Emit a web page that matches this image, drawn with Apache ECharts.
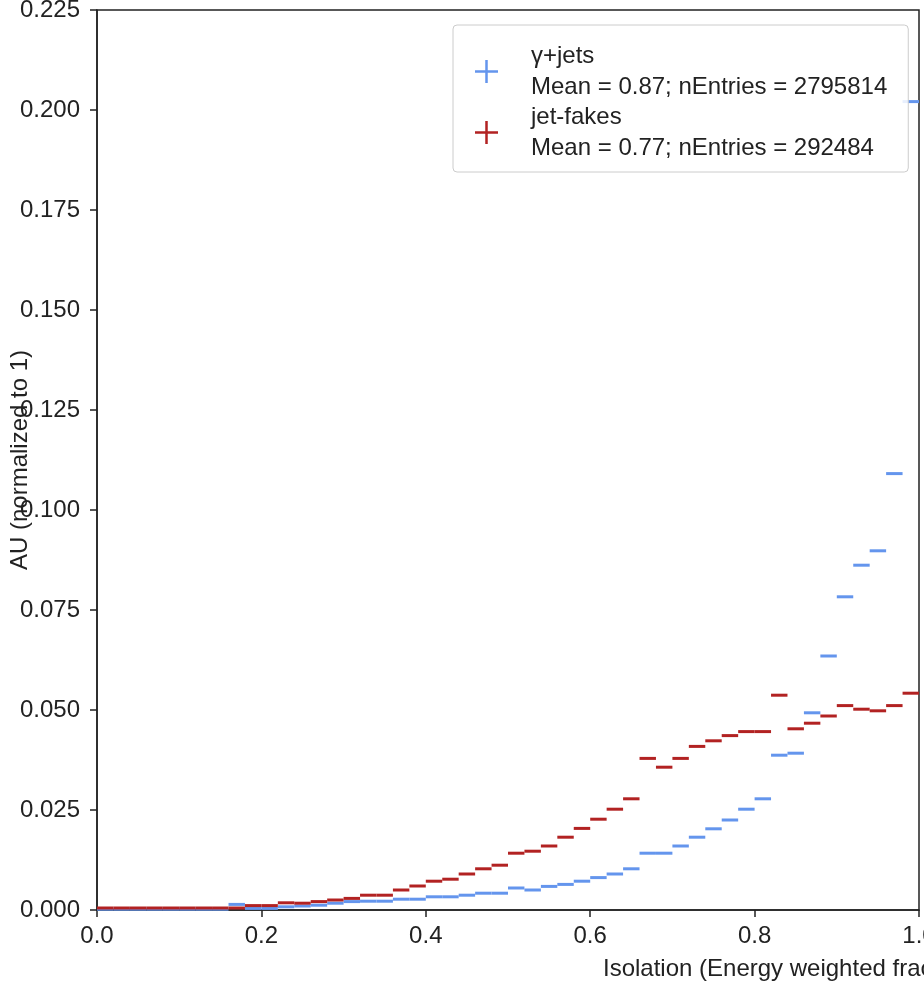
<!DOCTYPE html>
<html>
<head>
<meta charset="utf-8">
<script src="https://cdn.jsdelivr.net/npm/echarts@6/dist/echarts.min.js"></script>
<style>
  html, body { margin: 0; padding: 0; background: #fff; }
  #chart { width: 924px; height: 984px; }
</style>
</head>
<body>
<div id="chart"></div>
<script>
// ---- data ----
const binWidth = 0.02;
const nBins = 50;
const xTicks = [0.0, 0.2, 0.4, 0.6, 0.8, 1.0];
const seriesNames = ['γ+jets', 'jet-fakes'];
const seriesStats = ['Mean = 0.87; nEntries = 2795814', 'Mean = 0.77; nEntries = 292484'];
const gammaJets = [
  0.0002, 0.0002, 0.0002, 0.0002, 0.0002, 0.0002, 0.0002, 0.0002, 0.0014, 0.0004,
  0.0004, 0.0008, 0.0010, 0.0012, 0.0017, 0.0021, 0.0022, 0.0022, 0.0027, 0.0027,
  0.0033, 0.0033, 0.0037, 0.0042, 0.0042, 0.0055, 0.0050, 0.0059, 0.0064, 0.0072,
  0.0081, 0.0090, 0.0103, 0.0142, 0.0142, 0.0160, 0.0182, 0.0203, 0.0225, 0.0252,
  0.0278, 0.0387, 0.0392, 0.0493, 0.0635, 0.0783, 0.0862, 0.0898, 0.1091, 0.2021
];
const jetFakes = [
  0.0005, 0.0005, 0.0005, 0.0005, 0.0005, 0.0005, 0.0005, 0.0005, 0.0005, 0.0011,
  0.0011, 0.0018, 0.0017, 0.0021, 0.0025, 0.0029, 0.0037, 0.0037, 0.0050, 0.0060,
  0.0072, 0.0077, 0.0090, 0.0103, 0.0112, 0.0142, 0.0147, 0.0160, 0.0182, 0.0204,
  0.0227, 0.0252, 0.0278, 0.0379, 0.0357, 0.0379, 0.0409, 0.0423, 0.0436, 0.0446,
  0.0446, 0.0537, 0.0453, 0.0467, 0.0485, 0.0511, 0.0502, 0.0498, 0.0511, 0.0542
];
const colors = ['#6495ED', '#B22222'];

// ---- build ----
function toBins(vals) {
  return vals.map((v, i) => [i * binWidth, (i + 1) * binWidth, v]);
}
function renderStep(params, api) {
  const p0 = api.coord([api.value(0), api.value(2)]);
  const p1 = api.coord([api.value(1), api.value(2)]);
  return {
    type: 'line',
    shape: { x1: p0[0], y1: p0[1], x2: p1[0], y2: p1[1] },
    style: { stroke: api.visual('color'), lineWidth: 3 }
  };
}
const FONT = 'Liberation Sans, Arial, Helvetica, sans-serif';
const chart = echarts.init(document.getElementById('chart'), null, { renderer: 'canvas' });
const statsByName = {};
seriesNames.forEach((n, i) => statsByName[n] = seriesStats[i]);

chart.setOption({
  animation: false,
  backgroundColor: '#fff',
  textStyle: { fontFamily: FONT },
  grid: { left: 97, right: 5, top: 10, bottom: 74, containLabel: false, outerBoundsMode: 'none',
    show: true, borderColor: '#222', borderWidth: 1.5, backgroundColor: 'transparent' },
  xAxis: {
    type: 'value', min: 0, max: 1, interval: 0.2,
    axisLine: { show: true, onZero: false, lineStyle: { color: '#222', width: 1.5 } },
    axisTick: { show: true, length: 7, lineStyle: { color: '#222', width: 1.5 } },
    axisLabel: { margin: 14, fontSize: 24, color: '#222', fontFamily: FONT,
      formatter: v => v.toFixed(1) },
    splitLine: { show: false }
  },
  yAxis: {
    type: 'value', min: 0, max: 0.225, interval: 0.025,
    name: 'AU (normalized to 1)', nameLocation: 'middle', nameRotate: 90, nameGap: 65,
    nameMoveOverlap: false,
    nameTextStyle: { fontSize: 24, color: '#222', fontFamily: FONT },
    axisLine: { show: true, onZero: false, lineStyle: { color: '#222', width: 1.5 } },
    axisTick: { show: true, length: 7, lineStyle: { color: '#222', width: 1.5 } },
    axisLabel: { margin: 17, fontSize: 24, color: '#222', fontFamily: FONT,
      formatter: v => v.toFixed(3) },
    splitLine: { show: false }
  },
  legend: {
    left: 453, top: 25, orient: 'vertical',
    padding: [19, 21, 12, 22],
    itemGap: 6, itemWidth: 23, itemHeight: 23,
    backgroundColor: 'rgba(255,255,255,0.85)', borderColor: '#cccccc', borderWidth: 1, borderRadius: 4,
    data: seriesNames.map((n, i) => ({
      name: n,
      icon: 'path://M10.25,0h2.5v10.25h10.25v2.5h-10.25v10.25h-2.5v-10.25h-10.25v-2.5h10.25z',
      itemStyle: { color: colors[i] }
    })),
    formatter: name => '{n|' + name + '}\n{s|' + statsByName[name] + '}',
    textStyle: {
      fontFamily: FONT, fontSize: 24, color: '#222',
      rich: {
        n: { fontFamily: FONT, fontSize: 24, lineHeight: 31, color: '#222', padding: [0, 0, 0, 28] },
        s: { fontFamily: FONT, fontSize: 24, lineHeight: 31, color: '#222', padding: [0, 0, 0, 28] }
      }
    }
  },
  graphic: [{
    type: 'text', left: 603, top: 957,
    style: { text: 'Isolation (Energy weighted fraction)', fontSize: 24, fill: '#222', fontFamily: FONT }
  }],
  series: [
    { name: seriesNames[0], type: 'custom', renderItem: renderStep, data: toBins(gammaJets),
      itemStyle: { color: colors[0] }, encode: { x: [0, 1], y: 2 }, z: 2 },
    { name: seriesNames[1], type: 'custom', renderItem: renderStep, data: toBins(jetFakes),
      itemStyle: { color: colors[1] }, encode: { x: [0, 1], y: 2 }, z: 3 }
  ]
});
</script>
</body>
</html>
